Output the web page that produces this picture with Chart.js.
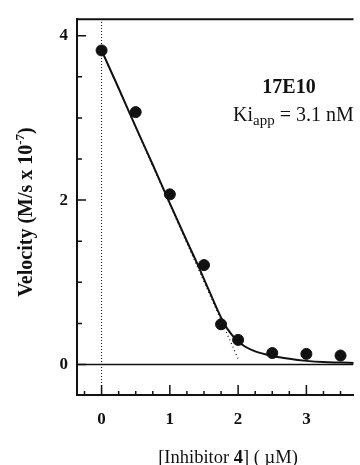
<!DOCTYPE html>
<html>
<head>
<meta charset="utf-8">
<script src="https://cdn.jsdelivr.net/npm/chart.js@4.4.0/dist/chart.umd.min.js"></script>
<style>
  body { margin: 0; background: #fff; }
  #plot { display: block; }
</style>
</head>
<body>
<canvas id="plot" width="360" height="465"></canvas>
<script>
// measured velocities (circles)
const inhX = [0, 0.5, 1.0, 1.5, 1.75, 2.0, 2.5, 3.0, 3.5];
const velY = [3.82, 3.07, 2.07, 1.21, 0.49, 0.30, 0.14, 0.13, 0.11];

// fitted curve
const fitX = [0, 0.25, 0.5, 0.75, 1.0, 1.25, 1.4, 1.5, 1.6, 1.7, 1.8, 1.9, 2.0, 2.1, 2.25, 2.5, 2.75, 3.0, 3.25, 3.5, 3.7];
const fitY = [3.82, 3.36, 2.89, 2.43, 1.96, 1.50, 1.23, 1.04, 0.85, 0.66, 0.49, 0.37, 0.28, 0.22, 0.16, 0.105, 0.07, 0.045, 0.03, 0.025, 0.02];

// dotted linear extrapolation
const tanX = [0, 2.0];
const tanY = [3.82, 0.07];

// axes
const xMin = -0.36, xMax = 3.69;
const yMin = -0.37, yMax = 4.2;
const xTicks = [-0.25, 0, 0.25, 0.5, 0.75, 1, 1.25, 1.5, 1.75, 2, 2.25, 2.5, 2.75, 3, 3.25, 3.5];
const xLabels = [0, 1, 2, 3];
const yTicks = [0, 0.5, 1, 1.5, 2, 2.5, 3, 3.5, 4];
const yLabels = [0, 2, 4];

const serif = "'Liberation Serif', 'Times New Roman', serif";
const ink = "#111";

const toPts = (xs, ys) => xs.map((v, i) => ({ x: v, y: ys[i] }));

// inward ticks, top frame line and the text blocks
const decor = {
  id: "decor",
  afterDraw(chart) {
    const { ctx, chartArea: a, scales: { x, y } } = chart;
    ctx.save();
    ctx.strokeStyle = ink;
    ctx.lineWidth = 1.5;
    ctx.beginPath();
    xTicks.forEach(v => {
      const px = x.getPixelForValue(v);
      const len = xLabels.includes(v) ? 10 : 4;
      ctx.moveTo(px, a.bottom);
      ctx.lineTo(px, a.bottom - len);
    });
    yTicks.forEach(v => {
      const py = y.getPixelForValue(v);
      const len = yLabels.includes(v) ? 9 : 5;
      ctx.moveTo(a.left, py);
      ctx.lineTo(a.left + len, py);
    });
    ctx.stroke();

    ctx.lineWidth = 2;
    ctx.beginPath();
    ctx.moveTo(a.left, a.top);
    ctx.lineTo(a.right, a.top);
    ctx.stroke();

    ctx.fillStyle = ink;
    ctx.textBaseline = "alphabetic";

    // label block
    ctx.font = "bold 20px " + serif;
    ctx.textAlign = "center";
    ctx.fillText("17E10", 289, 93);
    ctx.textAlign = "left";
    let tx = 233;
    ctx.font = "20px " + serif;
    ctx.fillText("Ki", tx, 121);
    tx += ctx.measureText("Ki").width;
    ctx.font = "15px " + serif;
    ctx.fillText("app", tx, 125);
    tx += ctx.measureText("app").width;
    ctx.font = "20px " + serif;
    ctx.fillText(" = 3.1 nM", tx, 121);

    // x title
    const p1 = "[Inhibitor ", p2 = "4", p3 = "] ( \u00b5M)";
    ctx.font = "18.5px " + serif;
    const w1 = ctx.measureText(p1).width, w3 = ctx.measureText(p3).width;
    ctx.font = "bold 18.5px " + serif;
    const w2 = ctx.measureText(p2).width;
    let sx = 228 - (w1 + w2 + w3) / 2;
    ctx.font = "18.5px " + serif;
    ctx.fillText(p1, sx, 463);
    ctx.font = "bold 18.5px " + serif;
    ctx.fillText(p2, sx + w1, 463);
    ctx.font = "18.5px " + serif;
    ctx.fillText(p3, sx + w1 + w2, 463);

    // y title, rotated
    ctx.translate(32, 212);
    ctx.rotate(-Math.PI / 2);
    const t1 = "Velocity (M/s x 10", t2 = "-7", t3 = ")";
    ctx.font = "bold 20px " + serif;
    const a1 = ctx.measureText(t1).width, a3 = ctx.measureText(t3).width;
    ctx.font = "bold 13px " + serif;
    const a2 = ctx.measureText(t2).width;
    let ry = -(a1 + a2 + a3) / 2;
    ctx.font = "bold 20px " + serif;
    ctx.fillText(t1, ry, 0);
    ctx.font = "bold 13px " + serif;
    ctx.fillText(t2, ry + a1, -8);
    ctx.font = "bold 20px " + serif;
    ctx.fillText(t3, ry + a1 + a2, 0);
    ctx.restore();
  }
};

new Chart(document.getElementById("plot"), {
  type: "scatter",
  data: {
    datasets: [
      {
        label: "data",
        data: toPts(inhX, velY),
        pointRadius: 5.5,
        pointBackgroundColor: ink,
        pointBorderColor: ink,
        showLine: false,
        order: 0
      },
      {
        label: "fit",
        data: toPts(fitX, fitY),
        showLine: true,
        pointRadius: 0,
        borderColor: ink,
        borderWidth: 2,
        cubicInterpolationMode: "monotone",
        order: 1
      },
      {
        label: "linear",
        data: toPts(tanX, tanY),
        showLine: true,
        pointRadius: 0,
        borderColor: ink,
        borderWidth: 1.2,
        borderDash: [1, 3],
        order: 2
      },
      {
        label: "x0",
        data: toPts([0, 0], [yMin, yMax]),
        showLine: true,
        pointRadius: 0,
        borderColor: ink,
        borderWidth: 1,
        borderDash: [1, 2],
        order: 3
      },
      {
        label: "y0",
        data: toPts([xMin, xMax], [0, 0]),
        showLine: true,
        pointRadius: 0,
        borderColor: ink,
        borderWidth: 1.5,
        order: 3
      }
    ]
  },
  options: {
    responsive: false,
    animation: false,
    devicePixelRatio: 1,
    layout: { padding: { top: 13, right: 0, left: 0, bottom: 0 } },
    plugins: { legend: { display: false }, tooltip: { enabled: false } },
    scales: {
      x: {
        type: "linear",
        min: xMin,
        max: xMax,
        grid: { display: false, drawTicks: false },
        border: { display: true, color: ink, width: 2 },
        afterBuildTicks: s => { s.ticks = xTicks.map(v => ({ value: v })); },
        afterFit: s => { s.height = 70; },
        ticks: {
          autoSkip: false,
          maxRotation: 0,
          padding: 14,
          color: ink,
          font: { family: serif, size: 17, weight: "bold" },
          callback: v => (xLabels.includes(v) ? String(v) : "")
        }
      },
      y: {
        type: "linear",
        min: yMin,
        max: yMax,
        grid: { display: false, drawTicks: false },
        border: { display: true, color: ink, width: 2 },
        afterBuildTicks: s => { s.ticks = yTicks.map(v => ({ value: v })); },
        afterFit: s => { s.width = 77; },
        ticks: {
          autoSkip: false,
          padding: 9,
          color: ink,
          font: { family: serif, size: 17, weight: "bold" },
          callback: v => (yLabels.includes(v) ? String(v) : "")
        }
      }
    }
  },
  plugins: [decor]
});
</script>
</body>
</html>
